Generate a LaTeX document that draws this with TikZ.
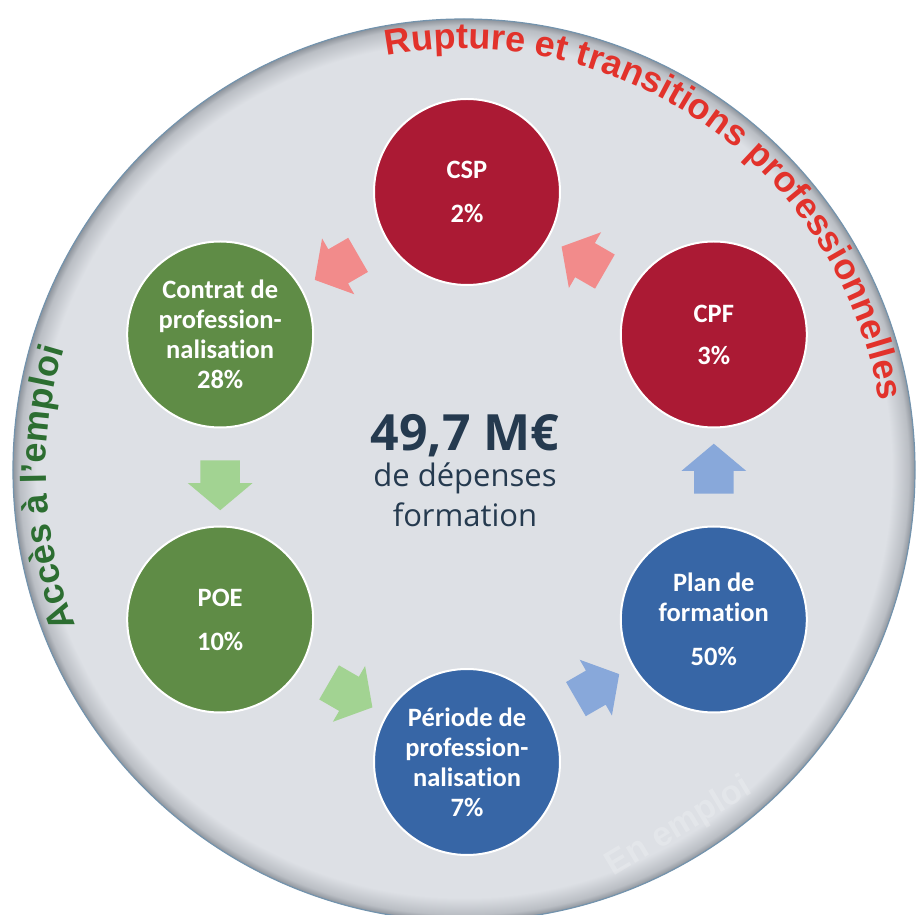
\documentclass[tikz,border=0pt]{standalone}
\usepackage{fontspec}
\setmainfont{Open Sans}
\newfontfamily\circfont[Ligatures=NoCommon]{Carlito}
\newfontfamily\arcfont{Liberation Sans}
\usepackage{tikz}
\usetikzlibrary{shapes.arrows}
\usetikzlibrary{positioning}
\usetikzlibrary{calc}
\usetikzlibrary{decorations.text}

\definecolor{discbg}{HTML}{DDE0E5}
\definecolor{rimmid}{HTML}{BABEC4}
\definecolor{rimdark}{HTML}{8E949C}
\definecolor{rimline}{HTML}{7393AD}
\definecolor{stagered}{HTML}{AB1A34}
\definecolor{stagegreen}{HTML}{5F8C46}
\definecolor{stageblue}{HTML}{3766A6}
\definecolor{flowpink}{HTML}{F28B8B}
\definecolor{flowgreen}{HTML}{A2D392}
\definecolor{flowblue}{HTML}{88A8DA}
\definecolor{navy}{HTML}{253A4F}
\definecolor{rupred}{HTML}{E2322B}
\definecolor{accgreen}{HTML}{2C6E31}

\pgfdeclareradialshading{rimshade}{\pgfpointorigin}{color(0bp)=(discbg); color(23.7bp)=(discbg); color(24.65bp)=(rimmid); color(25bp)=(rimdark); color(50bp)=(rimdark)}

\begin{document}
\begin{tikzpicture}[x=1pt, y=1pt, node distance=10pt,
	stage/.style={circle, minimum size=186pt, inner sep=0pt, draw=white, line width=2pt, text=white, align=center, font=\circfont\bfseries\fontsize{26.5}{30}\selectfont},
	flow/.style={single arrow, draw=none, minimum height=50pt, inner sep=0pt, inner ysep=19.5pt, single arrow head extend=12.5pt, single arrow tip angle=100},
	centretxt/.style={anchor=base, text=navy}]
		\useasboundingbox (-467,-438) rectangle (449,477);
		\coordinate (ring) at (-3,7);
		\shade[shading=rimshade] (ring) circle (451);
		\draw[rimline, line width=1.2pt] (ring) circle (451);
		\node[rotate=31, text=white, opacity=0.2, font=\arcfont\bfseries\fontsize{34}{34}\selectfont] (wm) at (212,-350) {En emploi};
		\foreach \name/\ang/\col/\txt in {csp/90/stagered/{CSP\\[14pt]2\%}, cpf/30/stagered/{CPF\\[12pt]3\%},
			plan/-30/stageblue/{Plan de\\formation\\[14pt]50\%}, periode/-90/stageblue/{Période de\\profession-\\nalisation\\7\%},
			poe/-150/stagegreen/{POE\\[14pt]10\%}, contrat/150/stagegreen/{Contrat de\\profession-\\nalisation\\28\%}} {
			\node[stage, fill=\col] (\name) at (\ang:285) {\txt};
		}
		\foreach \from/\to/\ang/\col in {csp/contrat/210/flowpink, contrat/poe/270/flowgreen, poe/periode/330/flowgreen,
			periode/plan/30/flowblue, plan/cpf/90/flowblue, cpf/csp/150/flowpink} {
			\node[flow, fill=\col, rotate=\ang] (f-\from) at ($(\from)!0.5!(\to)$) {};
		}
		\node[centretxt, font=\bfseries\fontsize{50}{50}\selectfont] (total) at (-2,26) {49,7 M€};
		\node[below=36pt of total.base, centretxt, font=\fontsize{31}{31}\selectfont] (dep) {de dépenses};
		\node[below=40pt of dep.base, centretxt, font=\fontsize{31}{31}\selectfont] (form) {formation};
		% titres sur le bord
		\path[decorate, decoration={text along path, text align=center,
			text={|\arcfont\bfseries\fontsize{36}{36}\selectfont\color{rupred}|Rupture et transitions professionnelles}}]
			(ring) ++(115:421) arc[start angle=115, end angle=-5, radius=421];
		\path[decorate, decoration={text along path, text align=center,
			text={|\arcfont\bfseries\fontsize{36}{36}\selectfont\color{accgreen}|Accès à l’emploi}}]
			(ring) ++(222.5:418) arc[start angle=222.5, end angle=142.5, radius=418];
\end{tikzpicture}
\end{document}
